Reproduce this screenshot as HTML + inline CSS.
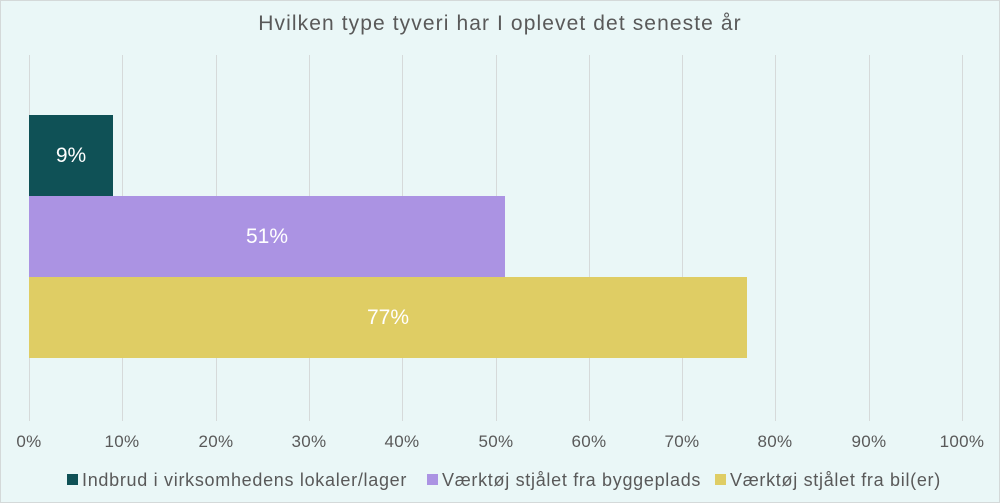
<!DOCTYPE html>
<html><head><style>
body{margin:0;background:#fff}
.c{position:relative;width:998px;height:501px;background:#eaf7f7;border:1px solid #d4d9d9;overflow:hidden;font-family:"Liberation Sans",sans-serif;color:#595959}
.t{position:absolute;top:11px;left:-1px;width:1000px;text-align:center;font-size:21px;letter-spacing:1.1px}
.g{position:absolute;top:54px;height:366px;width:1px;background:#d6dada}
.b{position:absolute;left:28px;height:81px;color:#fff;font-size:21px;display:flex;align-items:center;justify-content:center}
.x{position:absolute;top:431px;font-size:17px;width:60px;text-align:center;margin-left:-30px;letter-spacing:0.3px}
.l{position:absolute;top:469px;font-size:18px;white-space:nowrap;letter-spacing:0.7px}
.l i{display:inline-block;width:11px;height:11px;margin-right:4px;vertical-align:1px}
</style></head><body><div class="c">
<div class="t">Hvilken type tyveri har I oplevet det seneste år</div>
<div class="g" style="left:28px"></div><div class="g" style="left:121px"></div><div class="g" style="left:215px"></div><div class="g" style="left:308px"></div><div class="g" style="left:401px"></div><div class="g" style="left:495px"></div><div class="g" style="left:588px"></div><div class="g" style="left:681px"></div><div class="g" style="left:774px"></div><div class="g" style="left:868px"></div><div class="g" style="left:961px"></div>
<div class="b" style="top:114px;width:84px;background:#0f5156">9%</div>
<div class="b" style="top:195px;width:476px;background:#ab93e3">51%</div>
<div class="b" style="top:276px;width:718px;background:#dfcd64">77%</div>
<div class="x" style="left:28px">0%</div><div class="x" style="left:121px">10%</div><div class="x" style="left:215px">20%</div><div class="x" style="left:308px">30%</div><div class="x" style="left:401px">40%</div><div class="x" style="left:495px">50%</div><div class="x" style="left:588px">60%</div><div class="x" style="left:681px">70%</div><div class="x" style="left:774px">80%</div><div class="x" style="left:868px">90%</div><div class="x" style="left:961px">100%</div>
<div class="l" style="left:66px"><i style="background:#0f5156"></i>Indbrud i virksomhedens lokaler/lager</div>
<div class="l" style="left:426px"><i style="background:#ab93e3"></i>Værktøj stjålet fra byggeplads</div>
<div class="l" style="left:714px"><i style="background:#dfcd64"></i>Værktøj stjålet fra bil(er)</div>
</div></body></html>
